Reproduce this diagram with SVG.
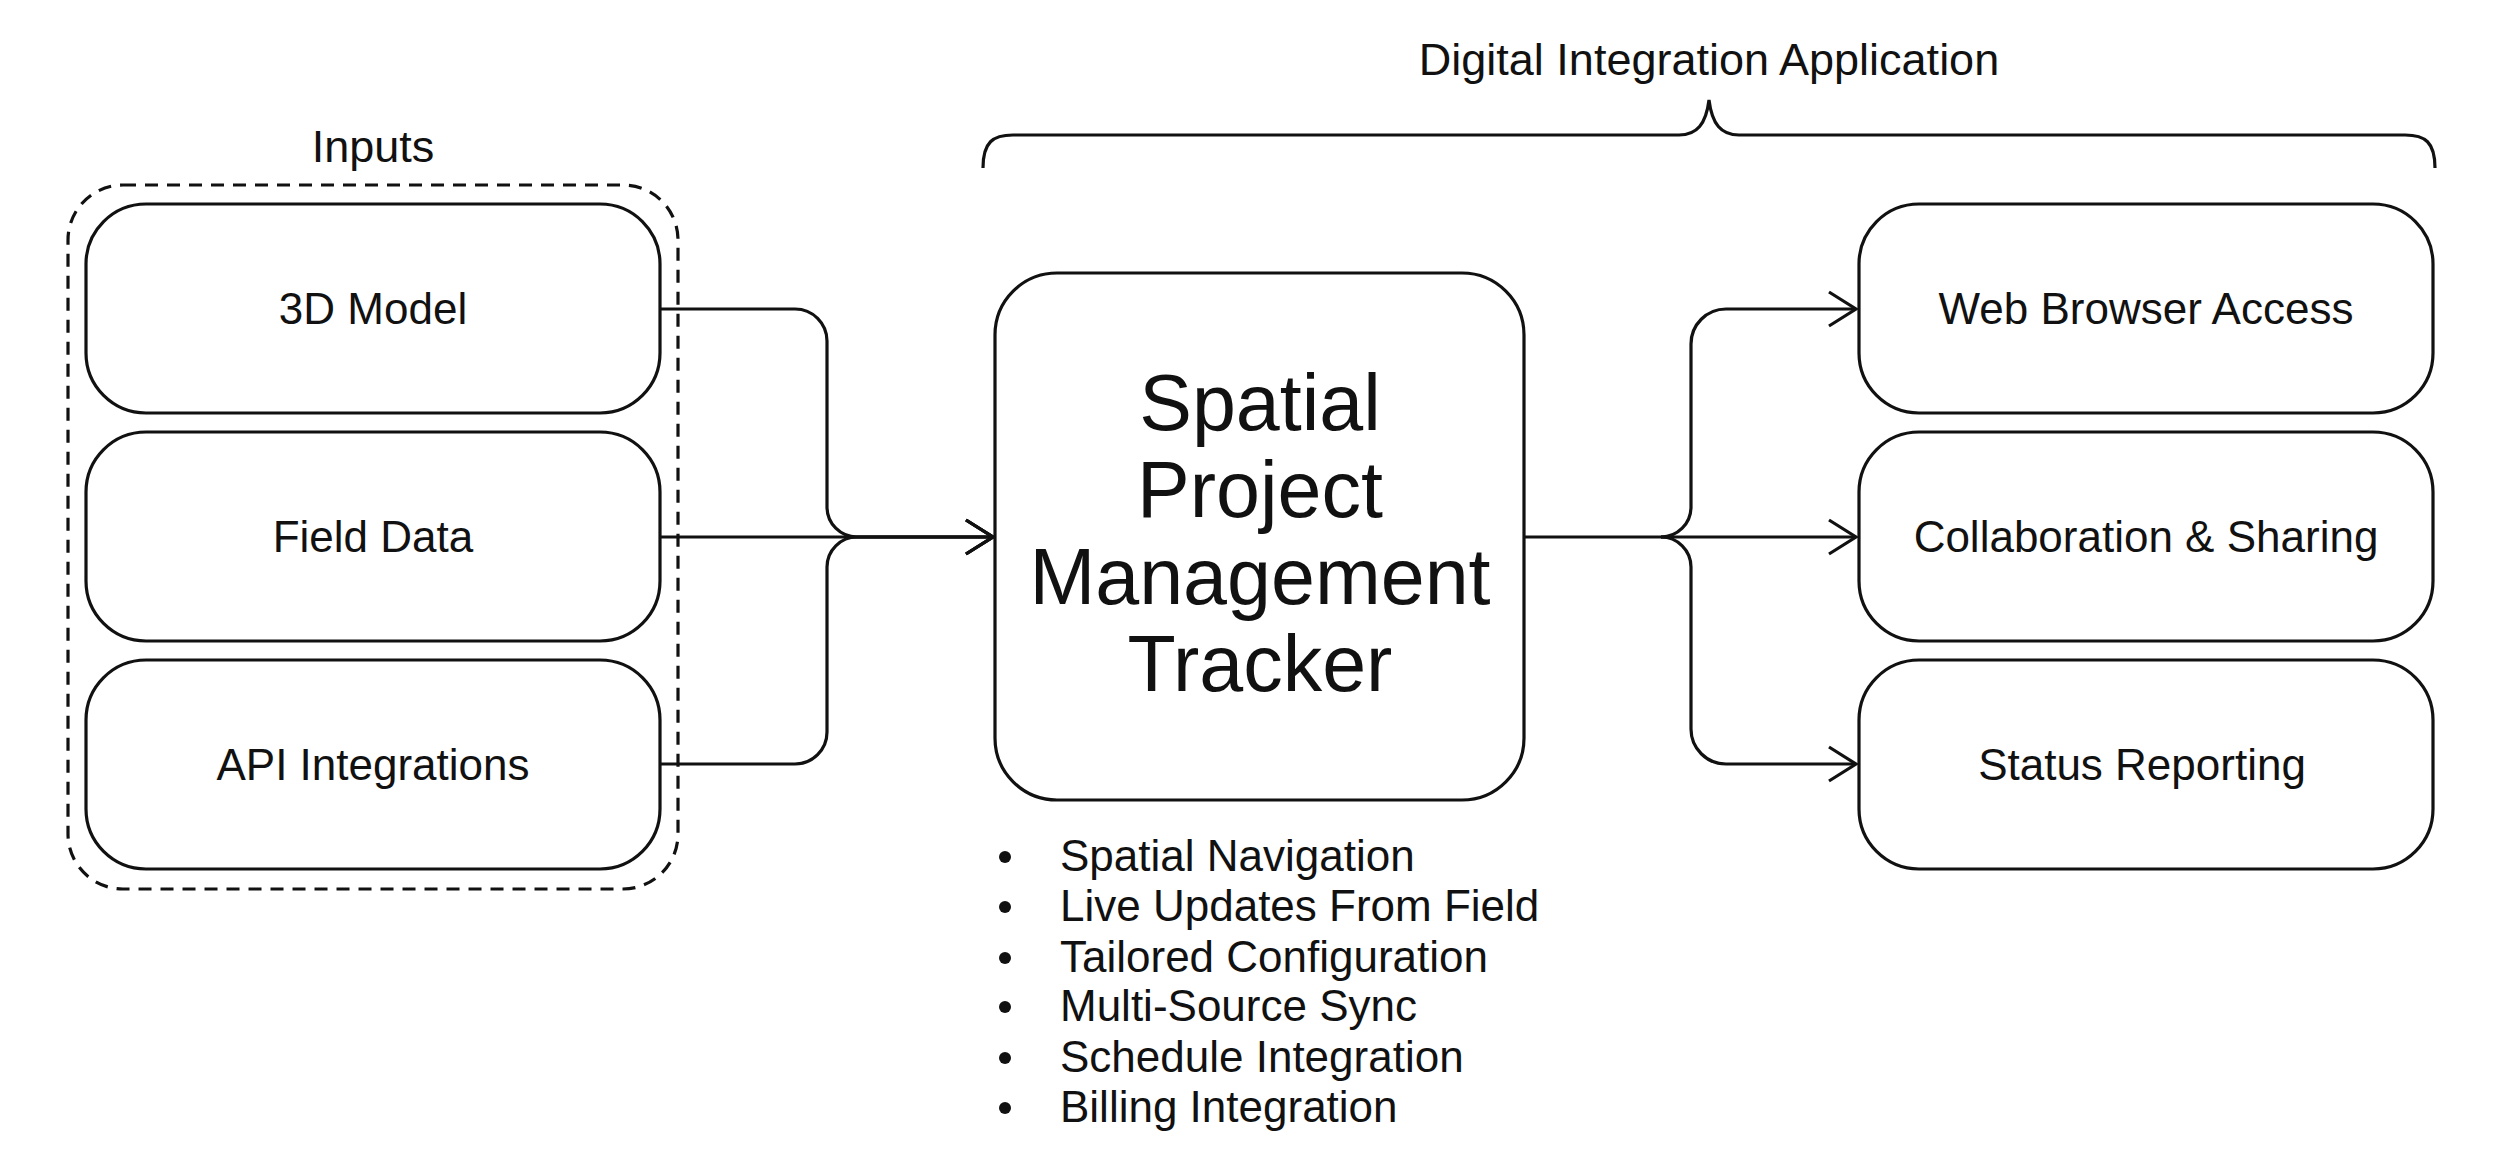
<svg xmlns="http://www.w3.org/2000/svg" width="2500" height="1171" viewBox="0 0 2500 1171">
<style>
.box{fill:#fff;stroke:#111;stroke-width:3.2}
.dash{fill:none;stroke:#111;stroke-width:3.2;stroke-dasharray:13 9}
.con{fill:none;stroke:#111;stroke-width:3.2}
.t{font-family:"Liberation Sans",Arial,sans-serif;fill:#111;text-anchor:middle}
.lbl{font-size:44px}
.big{font-size:79px}
.hdr{font-size:45px}
.bl{font-family:"Liberation Sans",Arial,sans-serif;fill:#111;font-size:44px}
</style>
<defs>
<marker id="arr" markerUnits="userSpaceOnUse" markerWidth="40" markerHeight="40" viewBox="-30 -20 34 40" refX="0" refY="0" orient="auto">
<path d="M-27,-17 L0,0 L-27,17" fill="none" stroke="#111" stroke-width="3.2"/>
</marker>
</defs>
<rect width="2500" height="1171" fill="#fff"/>

<g id="inputs-group">
<rect class="dash" x="68" y="185" width="610" height="704" rx="55"/>
<text class="t hdr" x="373" y="162">Inputs</text>
</g>
<g id="app-brace">
<path class="con" d="M983,168 C983,142 993,135 1013,135 H1679 C1697,135 1706,124 1709,100 C1712,124 1721,135 1739,135 H2405 C2425,135 2435,142 2435,168"/>
<text class="t hdr" x="1709" y="75">Digital Integration Application</text>
</g>

<g id="connectors">
<path class="con" d="M660,309 H795 A32,32 0 0 1 827,341 V507 A30,30 0 0 0 857,537 H993" marker-end="url(#arr)"/>
<path class="con" d="M660,537 H993" marker-end="url(#arr)"/>
<path class="con" d="M660,764 H795 A32,32 0 0 0 827,732 V567 A30,30 0 0 1 857,537 H993" marker-end="url(#arr)"/>
<path class="con" d="M1524,537 H1856" marker-end="url(#arr)"/>
<path class="con" d="M1661,537 A30,30 0 0 0 1691,507 V344 A35,35 0 0 1 1726,309 H1856" marker-end="url(#arr)"/>
<path class="con" d="M1661,537 A30,30 0 0 1 1691,567 V729 A35,35 0 0 0 1726,764 H1856" marker-end="url(#arr)"/>
</g>

<g id="n-3d-model">
<rect class="box" x="86" y="204" width="574" height="209" rx="60"/>
<text class="t lbl" x="373" y="324">3D Model</text>
</g>
<g id="n-field-data">
<rect class="box" x="86" y="432" width="574" height="209" rx="60"/>
<text class="t lbl" x="373" y="552">Field Data</text>
</g>
<g id="n-api">
<rect class="box" x="86" y="660" width="574" height="209" rx="60"/>
<text class="t lbl" x="373" y="780">API Integrations</text>
</g>

<g id="n-tracker">
<rect class="box" x="995" y="273" width="529" height="527" rx="62"/>
<text class="t big" x="1260" y="430">Spatial</text>
<text class="t big" x="1260" y="517">Project</text>
<text class="t big" x="1260" y="604">Management</text>
<text class="t big" x="1260" y="691">Tracker</text>
</g>

<g id="features">
<circle cx="1005" cy="857" r="6" fill="#111"/>
<circle cx="1005" cy="907" r="6" fill="#111"/>
<circle cx="1005" cy="958" r="6" fill="#111"/>
<circle cx="1005" cy="1007" r="6" fill="#111"/>
<circle cx="1005" cy="1058" r="6" fill="#111"/>
<circle cx="1005" cy="1108" r="6" fill="#111"/>
<text class="bl" x="1060" y="871">Spatial Navigation</text>
<text class="bl" x="1060" y="921">Live Updates From Field</text>
<text class="bl" x="1060" y="972">Tailored Configuration</text>
<text class="bl" x="1060" y="1021">Multi-Source Sync</text>
<text class="bl" x="1060" y="1072">Schedule Integration</text>
<text class="bl" x="1060" y="1122">Billing Integration</text>
</g>

<g id="n-web">
<rect class="box" x="1859" y="204" width="574" height="209" rx="60"/>
<text class="t lbl" x="2146" y="324">Web Browser Access</text>
</g>
<g id="n-collab">
<rect class="box" x="1859" y="432" width="574" height="209" rx="60"/>
<text class="t lbl" x="2146" y="552">Collaboration &amp; Sharing</text>
</g>
<g id="n-status">
<rect class="box" x="1859" y="660" width="574" height="209" rx="60"/>
<text class="t lbl" x="2142" y="780">Status Reporting</text>
</g>
</svg>
